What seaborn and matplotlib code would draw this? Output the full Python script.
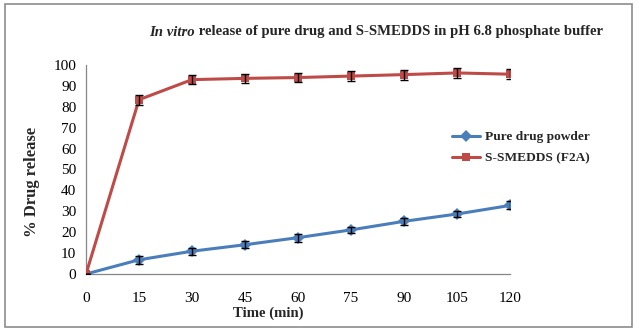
import matplotlib
matplotlib.use("Agg")
import matplotlib.pyplot as plt
import seaborn as sns
import pandas as pd
from matplotlib.patches import Rectangle
from matplotlib.lines import Line2D

time_min = [0, 15, 30, 45, 60, 75, 90, 105, 120]
pure_drug = [0, 6.8, 10.9, 14.0, 17.4, 21.1, 25.2, 28.7, 32.8]
pure_err = [0, 1.9, 1.6, 1.6, 1.9, 1.5, 1.6, 1.6, 1.9]
smedds = [0, 83.4, 93.0, 93.6, 94.0, 94.7, 95.4, 96.2, 95.6]
smedds_err = [0, 2.4, 2.2, 2.3, 2.1, 2.3, 2.4, 2.5, 2.3]
series_names = ["Pure drug powder", "S-SMEDDS (F2A)"]
y_ticks = [0, 10, 20, 30, 40, 50, 60, 70, 80, 90, 100]

sns.set_theme(style="white")
plt.rcParams['font.family'] = ['Liberation Serif', 'DejaVu Serif']

df = pd.DataFrame({
    "time": time_min * 2,
    "release": pure_drug + smedds,
    "series": [series_names[0]] * len(time_min) + [series_names[1]] * len(time_min),
})

W, H = 639, 331
fig = plt.figure(figsize=(W / 100, H / 100), dpi=100)
ax = fig.add_axes([86 / W, 1 - 274 / H, (510 - 86) / W, (274 - 65) / H])

blue = "#4A7EBB"
red = "#BE4B48"
sns.lineplot(data=df, x="time", y="release", hue="series", style="series",
             palette=[blue, red], markers=["D", "s"], dashes=False,
             linewidth=2.2, markersize=6, markeredgewidth=0, ax=ax,
             legend=False, zorder=3)
ax.errorbar(time_min, pure_drug, yerr=pure_err, fmt="none", ecolor="black",
            elinewidth=1.0, capsize=3, capthick=1.0, zorder=4)
ax.errorbar(time_min, smedds, yerr=smedds_err, fmt="none", ecolor="black",
            elinewidth=1.0, capsize=3, capthick=1.0, zorder=4)

ax.set_xlim(0, 120)
ax.set_ylim(0, 100)
ax.set_xticks(time_min)
ax.set_yticks(y_ticks)
ax.tick_params(axis="both", labelsize=11, colors="black", length=4,
               width=0.8, direction="out", pad=3)
ax.tick_params(axis="x", pad=9, color="#868686")
ax.tick_params(axis="y", color="#868686")
for s in ["top", "right"]:
    ax.spines[s].set_visible(False)
for s in ["left", "bottom"]:
    ax.spines[s].set_color("#868686")
    ax.spines[s].set_linewidth(0.9)
ax.set_xlabel("")
ax.set_ylabel("")
ax.patch.set_alpha(0)

fig.text(268 / W, 1 - 313 / H, "Time (min)", ha="center", va="center",
         fontsize=10.6, fontweight="bold")
fig.text(32 / W, 1 - 182 / H, "% Drug release", ha="center", va="center",
         rotation=90, fontsize=12, fontweight="bold")

# Title: italic "In vitro" + bold remainder
fig.canvas.draw()
r = fig.canvas.get_renderer()
t1 = fig.text(0, 1 - 32 / H, "In vitro", ha="left", va="center",
              fontsize=10.6, fontweight="bold", fontstyle="italic")
t2 = fig.text(0, 1 - 32 / H, " release of pure drug and S-SMEDDS in pH 6.8 phosphate buffer",
              ha="left", va="center", fontsize=10.6, fontweight="bold")
w1 = t1.get_window_extent(r).width
w2 = t2.get_window_extent(r).width
total = w1 + w2
x0 = 376 - total / 2
t1.set_x(x0 / W)
t2.set_x((x0 + w1) / W)

# Legend
handles = [Line2D([], [], color=blue, marker="D", lw=2.2, ms=6, mew=0),
           Line2D([], [], color=red, marker="s", lw=2.2, ms=6, mew=0)]
leg = fig.legend(handles, series_names, loc="upper left",
                 bbox_to_anchor=(440 / W, 1 - 119 / H), frameon=False,
                 prop={"family": "Liberation Serif", "weight": "bold", "size": 9.6},
                 handlelength=2.1, handletextpad=0.35, labelspacing=0.65)

fig.patches.append(Rectangle((5 / W, 1 - 327 / H), 627 / W, 323 / H,
                             transform=fig.transFigure, fill=False,
                             edgecolor="#8C8C8C", linewidth=1.2))

fig.savefig("out.png", dpi=100)
